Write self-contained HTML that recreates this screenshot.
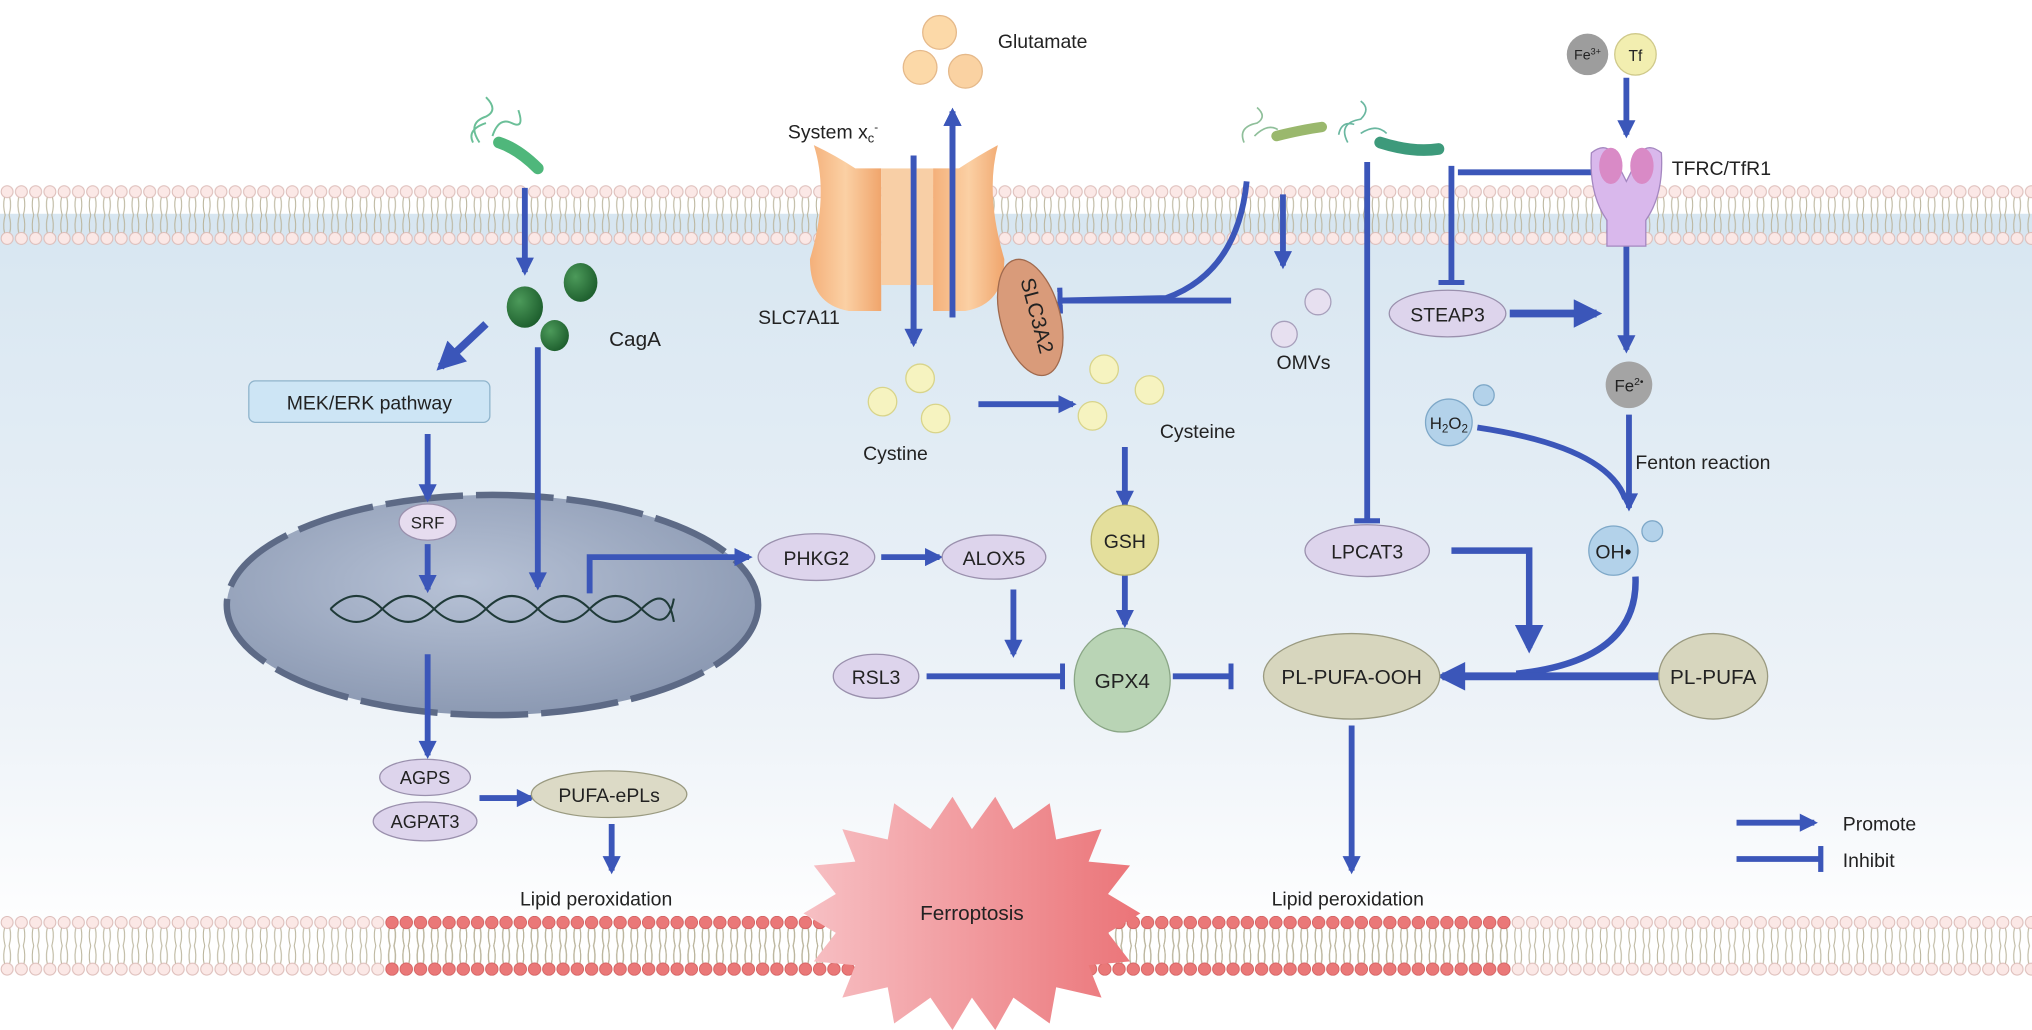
<!DOCTYPE html>
<html><head><meta charset="utf-8"><style>
html,body{margin:0;padding:0;background:#fff;}
svg{display:block;}
text{font-family:"Liberation Sans",sans-serif;fill:#222;}
</style></head><body>
<svg width="2032" height="1030" viewBox="0 0 1568 795" preserveAspectRatio="none" xmlns="http://www.w3.org/2000/svg">
<defs>
<linearGradient id="bg" x1="0" y1="0" x2="0" y2="1">
<stop offset="0" stop-color="#d7e6f1"/><stop offset="0.7" stop-color="#eef3f8"/><stop offset="1" stop-color="#ffffff"/>
</linearGradient>
<pattern id="mem" x="0" y="143" width="11" height="46" patternUnits="userSpaceOnUse">
<path d="M3.5 9 Q2 16 4 23 Q2 30 3.5 37 M7.5 9 Q9 16 7 23 Q9 30 7.5 37" fill="none" stroke="#b9b39a" stroke-width="0.8"/>
<circle cx="5.5" cy="5" r="4.6" fill="#fbe8e6" stroke="#dcbcb8" stroke-width="0.8"/>
<circle cx="5.5" cy="41" r="4.6" fill="#fbe8e6" stroke="#dcbcb8" stroke-width="0.8"/>
</pattern>
<pattern id="mem2" x="0" y="707" width="11" height="46" patternUnits="userSpaceOnUse">
<path d="M3.5 9 Q2 16 4 23 Q2 30 3.5 37 M7.5 9 Q9 16 7 23 Q9 30 7.5 37" fill="none" stroke="#b9b39a" stroke-width="0.8"/>
<circle cx="5.5" cy="5" r="4.6" fill="#fbe8e6" stroke="#dcbcb8" stroke-width="0.8"/>
<circle cx="5.5" cy="41" r="4.6" fill="#fbe8e6" stroke="#dcbcb8" stroke-width="0.8"/>
</pattern>
<pattern id="mem3" x="0" y="707" width="11" height="46" patternUnits="userSpaceOnUse">
<path d="M3.5 9 Q2 16 4 23 Q2 30 3.5 37 M7.5 9 Q9 16 7 23 Q9 30 7.5 37" fill="none" stroke="#b9b39a" stroke-width="0.8"/>
<circle cx="5.5" cy="5" r="4.8" fill="#ea7878" stroke="#d05a5a" stroke-width="0.6"/>
<circle cx="5.5" cy="41" r="4.8" fill="#ea7878" stroke="#d05a5a" stroke-width="0.6"/>
</pattern>
<marker id="ah" viewBox="0 0 10 10" refX="8" refY="5" markerWidth="16" markerHeight="14" markerUnits="userSpaceOnUse" orient="auto">
<path d="M0 0 L10 5 L0 10 Z" fill="#3b56b9"/></marker>
<marker id="ahb" viewBox="0 0 10 10" refX="8" refY="5" markerWidth="26" markerHeight="22" markerUnits="userSpaceOnUse" orient="auto">
<path d="M0 0 L10 5 L0 10 Z" fill="#3b56b9"/></marker>
<marker id="bar" viewBox="0 0 4 20" refX="2" refY="10" markerWidth="4" markerHeight="20" markerUnits="userSpaceOnUse" orient="auto">
<rect x="0" y="0" width="4" height="20" fill="#3b56b9"/></marker>
<radialGradient id="nuc" cx="0.45" cy="0.4" r="0.7"><stop offset="0" stop-color="#b7c2d6"/><stop offset="1" stop-color="#8593ad"/></radialGradient>
<linearGradient id="star" x1="0" x2="1"><stop offset="0" stop-color="#f7c0c4"/><stop offset="1" stop-color="#eb7478"/></linearGradient>
<linearGradient id="org" x1="0" x2="1"><stop offset="0" stop-color="#f4b07a"/><stop offset="0.5" stop-color="#fbd0a4"/><stop offset="1" stop-color="#f0a56c"/></linearGradient>
<radialGradient id="dg" cx="0.35" cy="0.35" r="0.7"><stop offset="0" stop-color="#4c9a5a"/><stop offset="1" stop-color="#1d5e2d"/></radialGradient>
</defs>

<rect x="0" y="0" width="1568" height="795" fill="#fff"/>
<rect x="0" y="165" width="1568" height="560" fill="url(#bg)"/>
<rect x="0" y="143" width="1568" height="46" fill="url(#mem)"/>
<rect x="0" y="707" width="1568" height="46" fill="url(#mem2)"/>
<rect x="297" y="707" width="869" height="46" fill="url(#mem3)"/>

<!-- Ferroptosis star -->
<polygon points="620,705 645,690 628,668 660,665 650,640 685,648 690,620 718,640 735,615 750,640 768,615 782,640 810,620 815,648 850,640 840,665 872,668 855,690 880,705 855,720 872,742 840,745 850,770 815,762 810,790 782,770 768,795 750,770 735,795 718,770 690,790 685,762 650,770 660,745 628,742 645,720" fill="url(#star)"/>
<text x="750" y="710" font-size="16" text-anchor="middle">Ferroptosis</text>

<!-- Nucleus -->
<ellipse cx="380" cy="467" rx="205" ry="85" fill="url(#nuc)" stroke="#5d6a86" stroke-width="5" stroke-dasharray="60 10"/>
<g fill="none" stroke="#1f3a38" stroke-width="1.6">
<path d="M255 470 Q275 450 295 470 T335 470 T375 470 T415 470 T455 470 T495 470 T520 480"/>
<path d="M255 470 Q275 490 295 470 T335 470 T375 470 T415 470 T455 470 T495 470 T520 462"/>
</g>

<!-- bacteria -->
<g fill="none" stroke="#6bbf98" stroke-width="1.5"><path d="M370 110 q-10 -15 5 -20 q10 -5 0 -15 M380 105 q5 -15 15 -10 q10 5 5 -10 M375 95 q-15 5 -10 15"/></g>
<path d="M385 110 Q400 115 415 130" stroke="#4fb77b" stroke-width="9" stroke-linecap="round" fill="none"/>
<g fill="none" stroke="#8fbf9a" stroke-width="1.3"><path d="M960 110 q-5 -12 10 -15 q8 -5 0 -12 M968 105 q10 -10 18 -5"/></g>
<path d="M985 105 Q1005 100 1020 98" stroke="#9ab86d" stroke-width="8" stroke-linecap="round" fill="none"/>
<g fill="none" stroke="#6ab7a0" stroke-width="1.3"><path d="M1040 110 q-8 -15 10 -18 q8 -8 0 -14 M1050 103 q12 -8 20 0 M1045 96 q-10 -3 -12 8"/></g>
<path d="M1065 110 Q1090 118 1110 115" stroke="#3d9a7b" stroke-width="9" stroke-linecap="round" fill="none"/>

<!-- CagA -->
<ellipse cx="405" cy="237" rx="14" ry="16" fill="url(#dg)"/>
<ellipse cx="448" cy="218" rx="13" ry="15" fill="url(#dg)"/>
<ellipse cx="428" cy="259" rx="11" ry="12" fill="url(#dg)"/>
<text x="470" y="267" font-size="16">CagA</text>

<!-- arrows left -->
<g stroke="#3b56b9" stroke-width="4.5" fill="none">
<line x1="405" y1="145" x2="405" y2="210" marker-end="url(#ah)"/>
<line x1="375" y1="250" x2="340" y2="283" marker-end="url(#ahb)" stroke-width="6"/>
<line x1="330" y1="335" x2="330" y2="385" marker-end="url(#ah)"/>
<line x1="415" y1="268" x2="415" y2="453" marker-end="url(#ah)"/>
<line x1="330" y1="420" x2="330" y2="455" marker-end="url(#ah)"/>
<line x1="330" y1="505" x2="330" y2="583" marker-end="url(#ah)"/>
<line x1="370" y1="616" x2="410" y2="616" marker-end="url(#ah)"/>
<line x1="472" y1="636" x2="472" y2="672" marker-end="url(#ah)"/>
<polyline points="455,458 455,430 578,430" marker-end="url(#ah)"/>
<line x1="680" y1="430" x2="725" y2="430" marker-end="url(#ah)"/>
<line x1="782" y1="455" x2="782" y2="505" marker-end="url(#ah)"/>
<line x1="715" y1="522" x2="820" y2="522" marker-end="url(#bar)"/>
<line x1="868" y1="444" x2="868" y2="482" marker-end="url(#ah)"/>
<line x1="868" y1="345" x2="868" y2="390" marker-end="url(#ah)"/>
<line x1="755" y1="312" x2="828" y2="312" marker-end="url(#ah)"/>
<line x1="905" y1="522" x2="950" y2="522" marker-end="url(#bar)"/>
<line x1="1043" y1="560" x2="1043" y2="672" marker-end="url(#ah)"/>
<line x1="705" y1="120" x2="705" y2="265" marker-end="url(#ah)"/>
<line x1="735" y1="245" x2="735" y2="86" marker-end="url(#ah)"/>
<path d="M962 140 Q955 210 900 230 L818 232" marker-end="url(#bar)"/>
<line x1="950" y1="232" x2="818" y2="232"/>
<line x1="990" y1="150" x2="990" y2="205" marker-end="url(#ah)"/>
<line x1="1055" y1="125" x2="1055" y2="402" marker-end="url(#bar)"/>
<line x1="1120" y1="128" x2="1120" y2="218" marker-end="url(#bar)"/>
<line x1="1125" y1="133" x2="1236" y2="133" marker-end="url(#bar)"/>
<line x1="1255" y1="60" x2="1255" y2="104" marker-end="url(#ah)"/>
<line x1="1255" y1="190" x2="1255" y2="270" marker-end="url(#ah)"/>
<line x1="1165" y1="242" x2="1232" y2="242" marker-end="url(#ahb)" stroke-width="6"/>
<line x1="1257" y1="320" x2="1257" y2="392" marker-end="url(#ah)"/>
<path d="M1140 330 Q1240 345 1254 385"/>
<polyline points="1120,425 1180,425 1180,500" marker-end="url(#ahb)" stroke-width="5"/>
<path d="M1262 445 Q1265 510 1170 520" stroke-width="5"/>
<line x1="1280" y1="522" x2="1113" y2="522" marker-end="url(#ahb)" stroke-width="6"/>
<line x1="1340" y1="635" x2="1400" y2="635" marker-end="url(#ah)"/>
<line x1="1340" y1="663" x2="1405" y2="663" marker-end="url(#bar)"/>
</g>

<!-- Transporter -->
<path d="M628 112 Q645 120 660 130 L680 130 L680 240 L655 240 Q625 235 625 200 Q640 150 628 112 Z" fill="url(#org)"/>
<path d="M770 112 Q755 120 740 130 L720 130 L720 240 L745 240 Q775 235 775 200 Q760 150 770 112 Z" fill="url(#org)"/>
<rect x="680" y="130" width="40" height="90" fill="#f8cfa6"/>
<g stroke="#3b56b9" stroke-width="4.5" fill="none">
<line x1="705" y1="120" x2="705" y2="265" marker-end="url(#ah)"/>
<line x1="735" y1="245" x2="735" y2="86" marker-end="url(#ah)"/>
</g>
<ellipse cx="795" cy="245" rx="23" ry="46" fill="#d99b7a" stroke="#a06a4e" stroke-width="1" transform="rotate(-15 795 245)"/>
<text x="0" y="0" font-size="16" text-anchor="middle" transform="translate(795 245) rotate(75)">SLC3A2</text>
<text x="608" y="107" font-size="15" >System x<tspan font-size="10" dy="3">c</tspan><tspan font-size="9" dy="-9">-</tspan></text>
<text x="585" y="250" font-size="15">SLC7A11</text>

<!-- Glutamate / cystine / cysteine -->
<g stroke="#e5b98a" stroke-width="1"><circle cx="725" cy="25" r="13" fill="#fcd9a8"/><circle cx="710" cy="52" r="13" fill="#fcd9a8"/><circle cx="745" cy="55" r="13" fill="#fad2a2"/></g>
<text x="770" y="37" font-size="15">Glutamate</text>
<g stroke="#d8d48a" stroke-width="1" fill="#f6f3c0"><circle cx="710" cy="292" r="11"/><circle cx="681" cy="310" r="11"/><circle cx="722" cy="323" r="11"/>
<circle cx="852" cy="285" r="11"/><circle cx="887" cy="301" r="11"/><circle cx="843" cy="321" r="11"/></g>
<text x="666" y="355" font-size="15">Cystine</text>
<text x="895" y="338" font-size="15">Cysteine</text>

<!-- Left nodes -->
<rect x="192" y="294" width="186" height="32" rx="5" fill="#cde5f5" stroke="#8fb4cc"/>
<text x="285" y="316" font-size="15" text-anchor="middle">MEK/ERK pathway</text>
<ellipse cx="330" cy="403" rx="22" ry="14" fill="#e6dcef" stroke="#9a90ad"/>
<text x="330" y="408" font-size="13" text-anchor="middle">SRF</text>
<ellipse cx="328" cy="600" rx="35" ry="14" fill="#ddd4ec" stroke="#9a90ad"/>
<text x="328" y="605" font-size="14" text-anchor="middle">AGPS</text>
<ellipse cx="328" cy="634" rx="40" ry="15" fill="#ddd4ec" stroke="#9a90ad"/>
<text x="328" y="639" font-size="14" text-anchor="middle">AGPAT3</text>
<ellipse cx="470" cy="613" rx="60" ry="18" fill="#dcdac6" stroke="#9a9a80"/>
<text x="470" y="619" font-size="15" text-anchor="middle">PUFA-ePLs</text>
<text x="460" y="699" font-size="15" text-anchor="middle">Lipid peroxidation</text>

<!-- middle nodes -->
<ellipse cx="630" cy="430" rx="45" ry="18" fill="#ddd4ec" stroke="#9a90ad"/>
<text x="630" y="436" font-size="15" text-anchor="middle">PHKG2</text>
<ellipse cx="767" cy="430" rx="40" ry="17" fill="#ddd4ec" stroke="#9a90ad"/>
<text x="767" y="436" font-size="15" text-anchor="middle">ALOX5</text>
<ellipse cx="676" cy="522" rx="33" ry="17" fill="#ddd4ec" stroke="#9a90ad"/>
<text x="676" y="528" font-size="15" text-anchor="middle">RSL3</text>
<ellipse cx="866" cy="525" rx="37" ry="40" fill="#b9d4b5" stroke="#8aa686"/>
<text x="866" y="531" font-size="16" text-anchor="middle">GPX4</text>
<ellipse cx="868" cy="417" rx="26" ry="27" fill="#e4df9c" stroke="#b9b46e"/>
<text x="868" y="423" font-size="15" text-anchor="middle">GSH</text>
<ellipse cx="1043" cy="522" rx="68" ry="33" fill="#d7d6be" stroke="#9a9a80"/>
<text x="1043" y="528" font-size="16" text-anchor="middle">PL-PUFA-OOH</text>
<ellipse cx="1322" cy="522" rx="42" ry="33" fill="#d7d6be" stroke="#9a9a80"/>
<text x="1322" y="528" font-size="16" text-anchor="middle">PL-PUFA</text>
<text x="1040" y="699" font-size="15" text-anchor="middle">Lipid peroxidation</text>

<!-- OMVs -->
<circle cx="1017" cy="233" r="10" fill="#e7e0f0" stroke="#a79fbb"/>
<circle cx="991" cy="258" r="10" fill="#e7e0f0" stroke="#a79fbb"/>
<text x="985" y="285" font-size="15">OMVs</text>

<!-- right nodes -->
<ellipse cx="1055" cy="425" rx="48" ry="20" fill="#ddd4ec" stroke="#9a90ad"/>
<text x="1055" y="431" font-size="15" text-anchor="middle">LPCAT3</text>
<ellipse cx="1117" cy="242" rx="45" ry="18" fill="#ddd4ec" stroke="#9a90ad"/>
<text x="1117" y="248" font-size="15" text-anchor="middle">STEAP3</text>
<!-- receptor -->
<path d="M1228 118 Q1226 150 1240 170 L1240 190 L1270 190 L1270 170 Q1284 150 1282 118 Q1272 110 1266 118 L1255 140 L1244 118 Q1238 110 1228 118Z" fill="#d9b8ec" stroke="#a487c0"/>
<ellipse cx="1243" cy="128" rx="9" ry="14" fill="#d98ac6"/>
<ellipse cx="1267" cy="128" rx="9" ry="14" fill="#d98ac6"/>
<text x="1290" y="135" font-size="15">TFRC/TfR1</text>
<circle cx="1225" cy="42" r="16" fill="#9d9d9d"/>
<text x="1225" y="46" font-size="11" text-anchor="middle">Fe<tspan font-size="7" dy="-4">3+</tspan></text>
<circle cx="1262" cy="42" r="16" fill="#f2eeb0" stroke="#cfc98a"/>
<text x="1262" y="47" font-size="12" text-anchor="middle">Tf</text>
<circle cx="1257" cy="297" r="18" fill="#a4a4a4"/>
<text x="1257" y="302" font-size="13" text-anchor="middle">Fe<tspan font-size="8" dy="-5">2•</tspan></text>
<circle cx="1118" cy="326" r="18" fill="#b3d2ea" stroke="#7ea8c8"/>
<circle cx="1145" cy="305" r="8" fill="#b3d2ea" stroke="#7ea8c8"/>
<text x="1118" y="331" font-size="13" text-anchor="middle">H<tspan font-size="9" dy="3">2</tspan><tspan dy="-3">O</tspan><tspan font-size="9" dy="3">2</tspan></text>
<text x="1262" y="362" font-size="15">Fenton reaction</text>
<circle cx="1245" cy="425" r="19" fill="#b3d2ea" stroke="#7ea8c8"/>
<circle cx="1275" cy="410" r="8" fill="#b3d2ea" stroke="#7ea8c8"/>
<text x="1245" y="431" font-size="15" text-anchor="middle">OH•</text>

<!-- legend -->
<text x="1422" y="641" font-size="15">Promote</text>
<text x="1422" y="669" font-size="15">Inhibit</text>
</svg>
</body></html>
